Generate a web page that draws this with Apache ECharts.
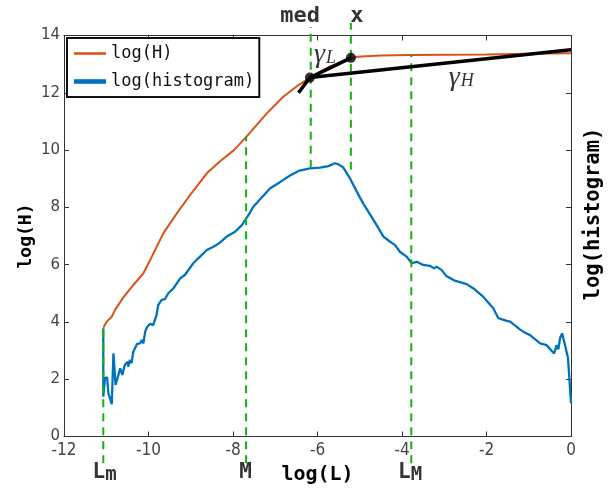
<!DOCTYPE html>
<html><head><meta charset="utf-8">
<script src="https://cdn.jsdelivr.net/npm/echarts@6/dist/echarts.min.js"></script>
<style>html,body{margin:0;padding:0;background:#fff;overflow:hidden}#c{width:608px;height:489px}</style>
</head><body><div id="c"></div>
<script>
// ---- data ----
const xTicks = [-12, -10, -8, -6, -4, -2, 0];
const yTicks = [0, 2, 4, 6, 8, 10, 12, 14];

const logH = [
  [-11.07,3.80],[-10.99,4.01],[-10.87,4.18],[-10.79,4.42],[-10.6,4.85],[-10.36,5.29],
  [-10.12,5.70],[-9.96,6.16],[-9.65,7.09],[-9.33,7.79],[-9.04,8.38],[-8.62,9.19],
  [-8.3,9.62],[-7.99,9.98],[-7.68,10.47],[-7.20,11.28],[-6.81,11.86],[-6.45,12.27],
  [-6.16,12.54],[-5.7,12.92],[-5.21,13.20],[-5.06,13.26],[-4.5,13.30],[-3.80,13.32],
  [-2,13.34],[-1,13.36],[0,13.38]
];

const logHist = [
  [-11.07,3.78],[-11.07,2.6],[-11.07,1.39],[-11.03,2.03],[-10.98,2.07],[-10.95,1.51],
  [-10.87,1.13],[-10.83,2.90],[-10.78,1.80],[-10.74,2.0],[-10.67,2.38],[-10.62,2.15],
  [-10.56,2.50],[-10.49,2.61],[-10.48,2.44],[-10.44,2.67],[-10.40,2.56],[-10.36,2.96],
  [-10.32,3.02],[-10.27,3.23],[-10.20,3.25],[-10.16,3.37],[-10.12,3.25],[-10.08,3.66],
  [-10.03,3.83],[-9.96,3.93],[-9.89,3.89],[-9.81,4.24],[-9.77,4.59],[-9.69,4.77],
  [-9.61,4.80],[-9.53,5.00],[-9.41,5.17],[-9.25,5.52],[-9.14,5.64],[-8.94,6.05],
  [-8.78,6.28],[-8.62,6.51],[-8.43,6.65],[-8.31,6.77],[-8.15,6.98],[-7.95,7.15],
  [-7.79,7.38],[-7.60,7.81],[-7.52,8.02],[-7.12,8.67],[-6.89,8.88],[-6.65,9.11],
  [-6.45,9.27],[-6.18,9.36],[-5.94,9.39],[-5.74,9.44],[-5.59,9.54],[-5.50,9.50],
  [-5.39,9.39],[-5.23,9.01],[-5.07,8.55],[-4.92,8.14],[-4.72,7.67],[-4.60,7.38],
  [-4.44,6.98],[-4.28,6.80],[-4.17,6.69],[-4.05,6.45],[-3.89,6.28],[-3.77,6.05],
  [-3.65,6.10],[-3.50,5.99],[-3.34,5.96],[-3.24,5.87],[-3.18,5.93],[-3.06,5.81],
  [-2.95,5.60],[-2.75,5.44],[-2.47,5.32],[-2.31,5.17],[-2.08,4.88],[-1.84,4.48],
  [-1.72,4.13],[-1.52,4.04],[-1.44,4.01],[-1.21,3.74],[-1.13,3.66],[-0.97,3.54],
  [-0.73,3.25],[-0.58,3.19],[-0.40,2.90],[-0.34,3.19],[-0.30,3.04],[-0.26,3.43],
  [-0.21,3.60],[-0.15,3.25],[-0.07,2.73],[0.0,1.16]
];

const gammaLLine = [[-6.45,12.0],[-6.18,12.53],[-5.21,13.22]];
const gammaHLine = [[-6.18,12.53],[0,13.50]];
const fitPoints  = [[-6.18,12.53],[-5.21,13.22]];

const vlineNames  = ['Lm','M','LM','med','x'];
const vlineX      = [-11.07, -7.69, -3.78, -6.16, -5.21];
const vlineTop    = [3.80, 10.47, 13.32, 14.30, 14.44];
const vlineBottom = [-0.93, -0.93, -0.93, 9.38, 9.31];

// annotation texts and their anchor points (data coordinates)
const annotText = ['med', 'x', 'Lm', 'M', 'LM', 'gammaL', 'gammaH'];
const annotX    = [-6.41, -5.07, -11.04, -7.70, -3.81, -5.82, -2.60];
const annotY    = [14.68, 14.68, -1.28, -1.28, -1.28, 13.36, 12.55];

// ---- chart ----
const MONO = '"DejaVu Sans Mono", monospace';
const SERIF = '"Liberation Serif", "DejaVu Serif", serif';
const AX = '#333';

function annotFormatter(t) {
  if (t === 'Lm') return '{a|L}{b|m}';
  if (t === 'LM') return '{a|L}{b|M}';
  if (t === 'M') return '{a|M}';
  if (t === 'gammaL') return '{g|γ}{s|L}';
  if (t === 'gammaH') return '{g|γ}{s|H}';
  return '{t|' + t + '}';
}

const vlineSeries = vlineNames.map((n, i) => ({
  type: 'line', name: 'v_' + n, clip: false, silent: true, symbol: 'none', z: 5,
  data: [[vlineX[i], vlineBottom[i]], [vlineX[i], vlineTop[i]]],
  lineStyle: { color: '#14b014', width: 2, type: [8, 6] }
}));

const option = {
  animation: false,
  backgroundColor: '#fff',
  grid: { left: 64, top: 35.5, width: 507, height: 401, containLabel: false, outerBoundsMode: 'none' },
  xAxis: [
    { type: 'value', min: -12, max: 0, interval: 2, position: 'bottom',
      axisLine: { onZero: false, lineStyle: { color: AX, width: 1 } },
      axisTick: { inside: true, length: 5, lineStyle: { color: AX } },
      axisLabel: { margin: 6, fontFamily: '"Liberation Sans Narrow", "DejaVu Sans Condensed", sans-serif', fontSize: 17, color: '#444' },
      splitLine: { show: false },
      name: 'log(L)', nameLocation: 'middle', nameGap: 27,
      nameTextStyle: { fontFamily: MONO, fontWeight: 'bold', fontSize: 20, color: '#000' } },
    { type: 'value', min: -12, max: 0, interval: 2, position: 'top',
      axisLine: { onZero: false, lineStyle: { color: AX, width: 1 } },
      axisTick: { inside: true, length: 5, lineStyle: { color: AX } },
      axisLabel: { show: false }, splitLine: { show: false } }
  ],
  yAxis: [
    { type: 'value', min: 0, max: 14, interval: 2, position: 'left',
      axisLine: { show: true, onZero: false, lineStyle: { color: AX, width: 1 } },
      axisTick: { show: true, inside: true, length: 5, lineStyle: { color: AX } },
      axisLabel: { margin: 4, fontFamily: '"DejaVu Sans", sans-serif', fontSize: 15, color: '#444', padding: [0, 0, 3, 0] },
      splitLine: { show: false },
      name: 'log(H)', nameLocation: 'middle', nameGap: 29, nameMoveOverlap: false,
      nameTextStyle: { fontFamily: MONO, fontWeight: 'bold', fontSize: 18, color: '#000' } },
    { type: 'value', min: 0, max: 14, interval: 2, position: 'right',
      axisLine: { show: true, onZero: false, lineStyle: { color: AX, width: 1 } },
      axisTick: { show: true, inside: true, length: 5, lineStyle: { color: AX } },
      axisLabel: { show: false }, splitLine: { show: false },
      name: 'log(histogram)', nameLocation: 'middle', nameGap: 12, nameRotate: 90, nameMoveOverlap: false,
      nameTextStyle: { fontFamily: MONO, fontWeight: 'bold', fontSize: 20.5, color: '#000', padding: [0, 0, 0, 44] } }
  ],
  legend: {
    orient: 'vertical', left: 67, top: 38, padding: [7, 5, 7, 7], itemGap: 11,
    itemWidth: 32, itemHeight: 14, borderColor: '#111', borderWidth: 2, backgroundColor: '#fff',
    symbolKeepAspect: true,
    textStyle: { fontFamily: MONO, fontSize: 17, color: '#111', lineHeight: 17 },
    data: [
      { name: 'log(H)', icon: 'path://M0,0L32,0L32,2.6L0,2.6Z' },
      { name: 'log(histogram)', icon: 'path://M0,0L32,0L32,4.6L0,4.6Z' }
    ]
  },
  series: [
    { type: 'line', name: 'log(histogram)', data: logHist, symbol: 'none', showSymbol: false, clip: false, z: 2,
      lineStyle: { color: '#0072BD', width: 2.3 }, itemStyle: { color: '#0072BD' } },
    { type: 'line', name: 'log(H)', data: logH, symbol: 'none', showSymbol: false, clip: false, z: 3,
      lineStyle: { color: '#D95319', width: 2 }, itemStyle: { color: '#D95319' } },
    ...vlineSeries,
    { type: 'line', name: 'gammaL', data: gammaLLine, symbol: 'none', clip: false, z: 6,
      lineStyle: { color: '#000', width: 3.5 } },
    { type: 'line', name: 'gammaH', data: gammaHLine, symbol: 'none', clip: false, z: 6,
      lineStyle: { color: '#000', width: 3.5 } },
    { type: 'scatter', name: 'fit', data: fitPoints, symbolSize: 10, clip: false, z: 7,
      itemStyle: { color: '#000' } },
    { type: 'scatter', name: 'annot', clip: false, silent: true, z: 8, symbolSize: 1,
      itemStyle: { color: 'rgba(0,0,0,0)' },
      data: annotText.map((t, i) => ({ value: [annotX[i], annotY[i]], name: t })),
      label: {
        show: true, position: 'inside', color: '#000',
        formatter: p => annotFormatter(p.name),
        rich: {
          t: { fontFamily: MONO, fontWeight: 'bold', fontSize: 22, color: '#000' },
          a: { fontFamily: MONO, fontWeight: 'bold', fontSize: 21, lineHeight: 22, verticalAlign: 'top', color: '#000' },
          b: { fontFamily: MONO, fontWeight: 'bold', fontSize: 19, lineHeight: 22, padding: [5, 0, 0, 0], verticalAlign: 'bottom', color: '#000' },
          g: { fontFamily: SERIF, fontStyle: 'italic', fontSize: 28, lineHeight: 26, verticalAlign: 'top', color: '#000' },
          s: { fontFamily: SERIF, fontStyle: 'italic', fontSize: 18, lineHeight: 18, padding: [12, 0, 0, 1], verticalAlign: 'bottom', color: '#000' }
        }
      } }
  ]
};

const chart = echarts.init(document.getElementById('c'), null, { renderer: 'canvas' });
chart.setOption(option);
</script>
</body></html>
